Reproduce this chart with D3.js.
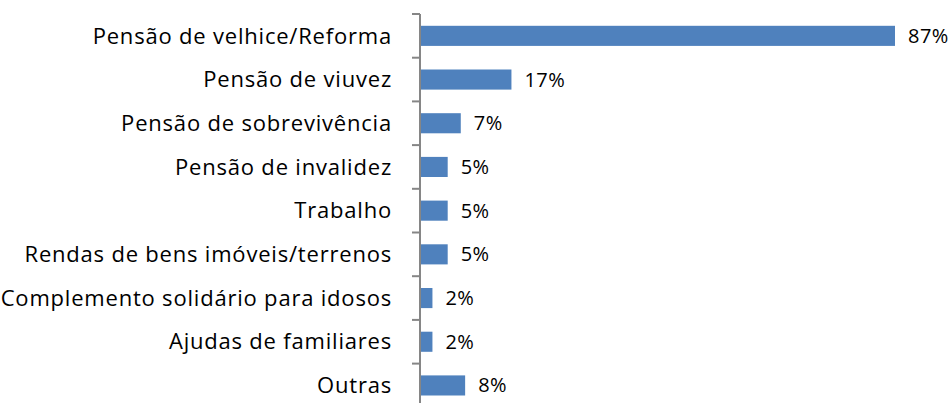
<!DOCTYPE html>
<html>
<head>
<meta charset="utf-8">
<script src="https://cdn.jsdelivr.net/npm/d3@7"></script>
<style>
  body { margin: 0; background: #fff; }
  svg { display: block; }
  text { font-family: "Open Sans", "Liberation Sans", sans-serif; fill: #000; }
</style>
</head>
<body>
<svg id="chart" width="951" height="403"></svg>
<script>
// categories top to bottom
var categories = [
  "Pensão de velhice/Reforma",
  "Pensão de viuvez",
  "Pensão de sobrevivência",
  "Pensão de invalidez",
  "Trabalho",
  "Rendas de bens imóveis/terrenos",
  "Complemento solidário para idosos",
  "Ajudas de familiares",
  "Outras"
];
// bar lengths (%)
var values = [87, 16.6, 7.3, 4.9, 4.9, 4.9, 2.1, 2.1, 8.1];
// the labels printed next to the bars
var valueLabels = ["87%", "17%", "7%", "5%", "5%", "5%", "2%", "2%", "8%"];

var svg = d3.select("#chart");
var axisX = 420;

var x = d3.scaleLinear()
  .domain([0, 87])
  .range([axisX + 1, 895]);

var y = d3.scaleBand()
  .domain(categories)
  .range([14, 14 + 43.7 * categories.length])
  .paddingInner(0.54)
  .paddingOuter(0.27);

// bars
svg.append("g").selectAll("rect")
  .data(values)
  .enter().append("rect")
  .attr("x", x(0))
  .attr("y", function(d, i) { return y(categories[i]); })
  .attr("width", function(d) { return x(d) - x(0); })
  .attr("height", y.bandwidth())
  .attr("fill", "#4F81BD");

// value labels
svg.append("g").selectAll("text")
  .data(values)
  .enter().append("text")
  .attr("x", function(d) { return x(d) + 13; })
  .attr("y", function(d, i) { return y(categories[i]) + y.bandwidth() / 2; })
  .attr("dy", "0.35em")
  .style("font-size", "20px")
  .style("letter-spacing", "0.5px")
  .text(function(d, i) { return valueLabels[i]; });

// category labels
var yAxis = d3.axisLeft(y).tickSize(0).tickPadding(28);
var ga = svg.append("g")
  .attr("transform", "translate(" + axisX + ",0)")
  .call(yAxis);
ga.select(".domain").remove();
ga.selectAll("text")
  .style("font-size", "22px")
  .style("letter-spacing", "0.8px")
  .attr("font-family", null)
  .attr("dy", "0.35em");

// axis line with tick marks between categories
var step = y.step();
var bounds = categories.map(function(c) { return y(c) - step * y.paddingInner() / 2; });
bounds.push(bounds[bounds.length - 1] + step);
svg.append("line")
  .attr("x1", axisX).attr("x2", axisX)
  .attr("y1", bounds[0]).attr("y2", bounds[bounds.length - 1])
  .attr("stroke", "#868686").attr("stroke-width", 2);
svg.append("g").selectAll("line")
  .data(bounds)
  .enter().append("line")
  .attr("x1", axisX - 8).attr("x2", axisX)
  .attr("y1", function(d) { return d; })
  .attr("y2", function(d) { return d; })
  .attr("stroke", "#868686").attr("stroke-width", 2);
</script>
</body>
</html>
